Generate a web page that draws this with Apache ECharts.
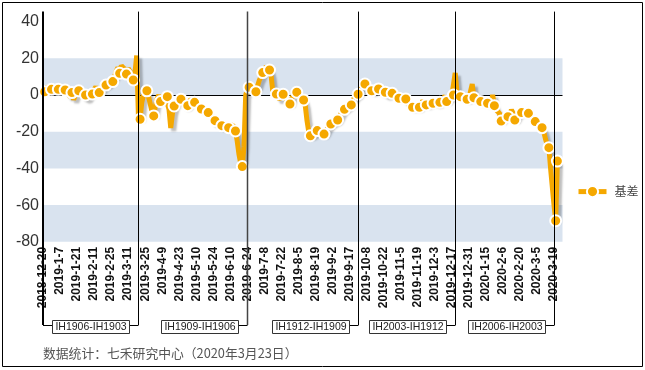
<!DOCTYPE html>
<html>
<head>
<meta charset="utf-8">
<script src="https://cdn.jsdelivr.net/npm/echarts@6/dist/echarts.min.js"></script>
<style>
html,body{margin:0;padding:0;background:#fff;}
#c{width:645px;height:370px;}
</style>
</head>
<body>
<div id="c"></div>
<script>
// ---------------- DATA ----------------
const categories = [
'2018-12-20','2018-12-21','2018-12-24','2018-12-25','2018-12-26','2018-12-27','2018-12-28',
'2019-1-2','2019-1-3','2019-1-4','2019-1-7','2019-1-8','2019-1-9','2019-1-10','2019-1-11','2019-1-14','2019-1-15','2019-1-16','2019-1-17','2019-1-18','2019-1-21','2019-1-22','2019-1-23','2019-1-24','2019-1-25','2019-1-28','2019-1-29','2019-1-30','2019-1-31',
'2019-2-1','2019-2-11','2019-2-12','2019-2-13','2019-2-14','2019-2-15','2019-2-18','2019-2-19','2019-2-20','2019-2-21','2019-2-22','2019-2-25','2019-2-26','2019-2-27','2019-2-28',
'2019-3-1','2019-3-4','2019-3-5','2019-3-6','2019-3-7','2019-3-8','2019-3-11','2019-3-12','2019-3-13','2019-3-14','2019-3-15','2019-3-18','2019-3-19','2019-3-20','2019-3-21','2019-3-22','2019-3-25','2019-3-26','2019-3-27','2019-3-28','2019-3-29',
'2019-4-1','2019-4-2','2019-4-3','2019-4-4','2019-4-8','2019-4-9','2019-4-10','2019-4-11','2019-4-12','2019-4-15','2019-4-16','2019-4-17','2019-4-18','2019-4-19','2019-4-22','2019-4-23','2019-4-24','2019-4-25','2019-4-26','2019-4-29','2019-4-30',
'2019-5-6','2019-5-7','2019-5-8','2019-5-9','2019-5-10','2019-5-13','2019-5-14','2019-5-15','2019-5-16','2019-5-17','2019-5-20','2019-5-21','2019-5-22','2019-5-23','2019-5-24','2019-5-27','2019-5-28','2019-5-29','2019-5-30','2019-5-31',
'2019-6-3','2019-6-4','2019-6-5','2019-6-6','2019-6-10','2019-6-11','2019-6-12','2019-6-13','2019-6-14','2019-6-17','2019-6-18','2019-6-19','2019-6-20','2019-6-21','2019-6-24','2019-6-25','2019-6-26','2019-6-27','2019-6-28',
'2019-7-1','2019-7-2','2019-7-3','2019-7-4','2019-7-5','2019-7-8','2019-7-9','2019-7-10','2019-7-11','2019-7-12','2019-7-15','2019-7-16','2019-7-17','2019-7-18','2019-7-19','2019-7-22','2019-7-23','2019-7-24','2019-7-25','2019-7-26','2019-7-29','2019-7-30','2019-7-31',
'2019-8-1','2019-8-2','2019-8-5','2019-8-6','2019-8-7','2019-8-8','2019-8-9','2019-8-12','2019-8-13','2019-8-14','2019-8-15','2019-8-16','2019-8-19','2019-8-20','2019-8-21','2019-8-22','2019-8-23','2019-8-26','2019-8-27','2019-8-28','2019-8-29','2019-8-30',
'2019-9-2','2019-9-3','2019-9-4','2019-9-5','2019-9-6','2019-9-9','2019-9-10','2019-9-11','2019-9-12','2019-9-16','2019-9-17','2019-9-18','2019-9-19','2019-9-20','2019-9-23','2019-9-24','2019-9-25','2019-9-26','2019-9-27','2019-9-30',
'2019-10-8','2019-10-9','2019-10-10','2019-10-11','2019-10-14','2019-10-15','2019-10-16','2019-10-17','2019-10-18','2019-10-21','2019-10-22','2019-10-23','2019-10-24','2019-10-25','2019-10-28','2019-10-29','2019-10-30','2019-10-31',
'2019-11-1','2019-11-4','2019-11-5','2019-11-6','2019-11-7','2019-11-8','2019-11-11','2019-11-12','2019-11-13','2019-11-14','2019-11-15','2019-11-18','2019-11-19','2019-11-20','2019-11-21','2019-11-22','2019-11-25','2019-11-26','2019-11-27','2019-11-28','2019-11-29',
'2019-12-2','2019-12-3','2019-12-4','2019-12-5','2019-12-6','2019-12-9','2019-12-10','2019-12-11','2019-12-12','2019-12-13','2019-12-16','2019-12-17','2019-12-18','2019-12-19','2019-12-20','2019-12-23','2019-12-24','2019-12-25','2019-12-26','2019-12-27','2019-12-30','2019-12-31',
'2020-1-2','2020-1-3','2020-1-6','2020-1-7','2020-1-8','2020-1-9','2020-1-10','2020-1-13','2020-1-14','2020-1-15','2020-1-16','2020-1-17','2020-1-20','2020-1-21','2020-1-22','2020-1-23',
'2020-2-3','2020-2-4','2020-2-5','2020-2-6','2020-2-7','2020-2-10','2020-2-11','2020-2-12','2020-2-13','2020-2-14','2020-2-17','2020-2-18','2020-2-19','2020-2-20','2020-2-21','2020-2-24','2020-2-25','2020-2-26','2020-2-27','2020-2-28',
'2020-3-2','2020-3-3','2020-3-4','2020-3-5','2020-3-6','2020-3-9','2020-3-10','2020-3-11','2020-3-12','2020-3-13','2020-3-16','2020-3-17','2020-3-18','2020-3-19','2020-3-20','2020-3-23'
];

const basis = [
2.5,1.8,4,5,4.5,3.1,5,4,3.5,3.1,3.5,3,3.5,2.7,2,0.5,-1,1.3,-2.5,0,
1.5,2.3,3,1,-1,0,-2,-1,1,0.5,3,4.5,2,1.3,3,4,5,5.4,6,7,
8,7.3,10,13,15,11.8,16,17,14,11.4,14.5,13,10,8.2,12,21.5,-11,-13.2,-4,0,
1,2.3,-1,-5,-9,-11.4,-6,-2,0,-3.6,-1,0,-1,-0.9,-8,-18,-10,-6,-5,-3,
-1.5,-2.3,-4,-6,-5,-5.8,-3,-2,-2.5,-4,-5,-6,-7,-7.6,-8,-8.5,-9,-9.6,-11,-12,
-15,-14,-15,-16,-17,-16.7,-17,-18,-17.5,-17.8,-16,-15.5,-17,-19.6,-25,-32,-37,-39,-28,0,
3,4.2,3,2.5,2,1.8,5,8,10,12.2,14,15.5,16.5,13.6,10,1,0,0.5,0,-2.5,
0,0.4,-1,-3,-4,-4.9,-2,0,1,1.5,2,0,-1,-2.7,-6,-14,-20,-22.2,-23,-21,
-20,-19.4,-20,-21,-22,-21.3,-20,-18,-17,-15.8,-15,-14.5,-14,-13.6,-12,-10,-8.5,-7.8,-7,-6,
-5.5,-5.4,-3,-1,0,0.4,2,4,5.5,6,4,3,2.5,2.3,2,3.5,3,3.3,2,2.5,
1,1.5,0,1,0.5,0.9,0,-1,-1.5,-1.8,-1,-2,-2.5,-2.2,-4,-6,-7,-6.7,-7,-6.5,
-7,-6.7,-6,-3,-5,-5.4,-5,-4.5,-4,-4.5,-4,-3.5,-4.5,-4,-3,-2,-0.5,-3.6,-2,-1,
-0.5,0,12,2,0,-0.9,-1,-2,-2,-2.3,-2,-1,6,-1.5,-2.5,-3,-3.5,-3.6,-4,-4,
-4.5,-4.5,-5,-5,0,-5.8,-8,-7,-10,-14.2,-12,-11,-11.5,-11.8,-11,-8,-10,-13.6,-12,-10,
-9.5,-9.6,-10,-9,-10,-10,-11,-12,-11,-14.5,-14,-15.5,-17,-17.8,-20,-24,-27,-28.7,-40,-50,
-60,-68.5,-36
];

const seriesName = '基差';
const rollDates = ['2019-3-19','2019-6-24','2019-9-24','2019-12-19','2020-3-19'];
const contractLabels = ['IH1906-IH1903','IH1909-IH1906','IH1912-IH1909','IH2003-IH1912','IH2006-IH2003'];
const footnote = '数据统计：七禾研究中心（2020年3月23日）';
const markerStep = 4;

// ---------------- CHART ----------------
const ORANGE = '#F5A800';
const BAND = '#D9E3EF';
const chart = echarts.init(document.getElementById('c'), null, {renderer: 'canvas'});
const lastIdx = basis.length - 1;

const seriesData = basis.map((v, i) => ({
  value: v,
  symbol: (i % markerStep === 1 || i === lastIdx) ? 'circle' : 'none'
}));

const xMax = categories.length + 2;

chart.setOption({
  animation: false,
  backgroundColor: '#fff',
  grid: {left: 43, top: 21.6, width: 519.5, height: 220.2, containLabel: false},
  legend: {
    data: [seriesName],
    left: 571, top: 180,
    itemWidth: 28, itemHeight: 14,
    lineStyle: {width: 5, color: ORANGE},
    itemStyle: {color: ORANGE, borderColor: '#fff', borderWidth: 2},
    textStyle: {fontSize: 12, color: '#444', fontFamily: '"Noto Sans CJK SC", sans-serif', padding: [0, 0, 0, 3]}
  },
  xAxis: {
    type: 'category', data: categories, boundaryGap: false, max: xMax,
    axisLine: {show: false, onZero: false},
    axisTick: {show: false},
    splitLine: {show: false},
    axisLabel: {
      interval: 9, rotate: 90, margin: 5,
      fontSize: 12, fontWeight: 'bold', color: '#111',
      fontFamily: '"Liberation Sans", Arial, sans-serif'
    }
  },
  yAxis: {
    type: 'value', min: -80, max: 40, interval: 20,
    axisLine: {show: true, lineStyle: {color: '#000', width: 2}},
    axisTick: {show: false},
    axisLabel: {fontSize: 16, color: '#333', margin: 4, fontFamily: '"Liberation Sans", Arial, sans-serif'},
    splitLine: {show: true, lineStyle: {color: ['rgba(0,0,0,0)','rgba(0,0,0,0)','rgba(0,0,0,0)','rgba(0,0,0,0)','#000','rgba(0,0,0,0)','rgba(0,0,0,0)'], width: 1}},
    splitArea: {show: true, areaStyle: {color: [BAND, 'rgba(255,255,255,0)']}}
  },
  series: [{
    name: seriesName,
    type: 'line',
    data: seriesData,
    symbol: 'circle',
    symbolSize: 11,
    showAllSymbol: true,
    lineStyle: {color: ORANGE, width: 5, shadowColor: 'rgba(0,0,0,0.25)', shadowBlur: 2, shadowOffsetX: 3, shadowOffsetY: 3},
    itemStyle: {color: ORANGE, borderColor: '#fff', borderWidth: 2},
    emphasis: {disabled: true}
  }]
});

// ---------------- ANNOTATIONS (placed via the chart's own scales) ----------------
const px = (idx) => chart.convertToPixel({xAxisIndex: 0}, idx);
const yTop = chart.convertToPixel({yAxisIndex: 0}, 40) - 10;
const bracketY = 325;
const boxH = 13, boxW = 77;
const x0 = px(0);
const rollX = rollDates.map(d => px(categories.indexOf(d)));
const g = [];

g.push({type: 'line', z: 100, shape: {x1: x0, y1: yTop, x2: x0, y2: bracketY}, style: {stroke: '#000', lineWidth: 2}});
rollX.forEach((x, i) => {
  const xr = Math.round(x) + 0.5;
  g.push({type: 'line', z: 100, shape: {x1: xr, y1: yTop, x2: xr, y2: bracketY}, style: {stroke: i === 1 ? '#444' : '#000', lineWidth: i === 1 ? 1.5 : 1}});
  const bx = Math.round(x - 9 - boxW) + 0.5;
  const by = bracketY - 4.5;
  g.push({type: 'line', z: 100, shape: {x1: bx + boxW, y1: bracketY + 0.5, x2: xr, y2: bracketY + 0.5}, style: {stroke: '#000', lineWidth: 1}});
  if (i === 0) {
    g.push({type: 'line', z: 100, shape: {x1: x0, y1: bracketY + 0.5, x2: bx, y2: bracketY + 0.5}, style: {stroke: '#000', lineWidth: 1}});
  }
  g.push({type: 'rect', z: 101, shape: {x: bx, y: by, width: boxW, height: boxH}, style: {fill: '#fff', stroke: '#333', lineWidth: 1}});
  g.push({type: 'text', z: 102, style: {text: contractLabels[i], x: bx + boxW / 2, y: by + boxH / 2 + 0.5, align: 'center', verticalAlign: 'middle', textAlign: 'center', textVerticalAlign: 'middle', font: '10.5px "Liberation Sans", Arial, sans-serif', fill: '#222'}});
});
g.push({type: 'text', z: 102, style: {text: footnote, x: 43, y: 353, verticalAlign: 'middle', textVerticalAlign: 'middle', font: '12.8px "Noto Sans CJK SC", sans-serif', fill: '#555'}});
g.push({type: 'rect', z: 103, shape: {x: 2.5, y: 2.5, width: 640, height: 364}, style: {fill: 'none', stroke: '#000', lineWidth: 1}});
chart.setOption({graphic: g});
</script>
</body>
</html>
